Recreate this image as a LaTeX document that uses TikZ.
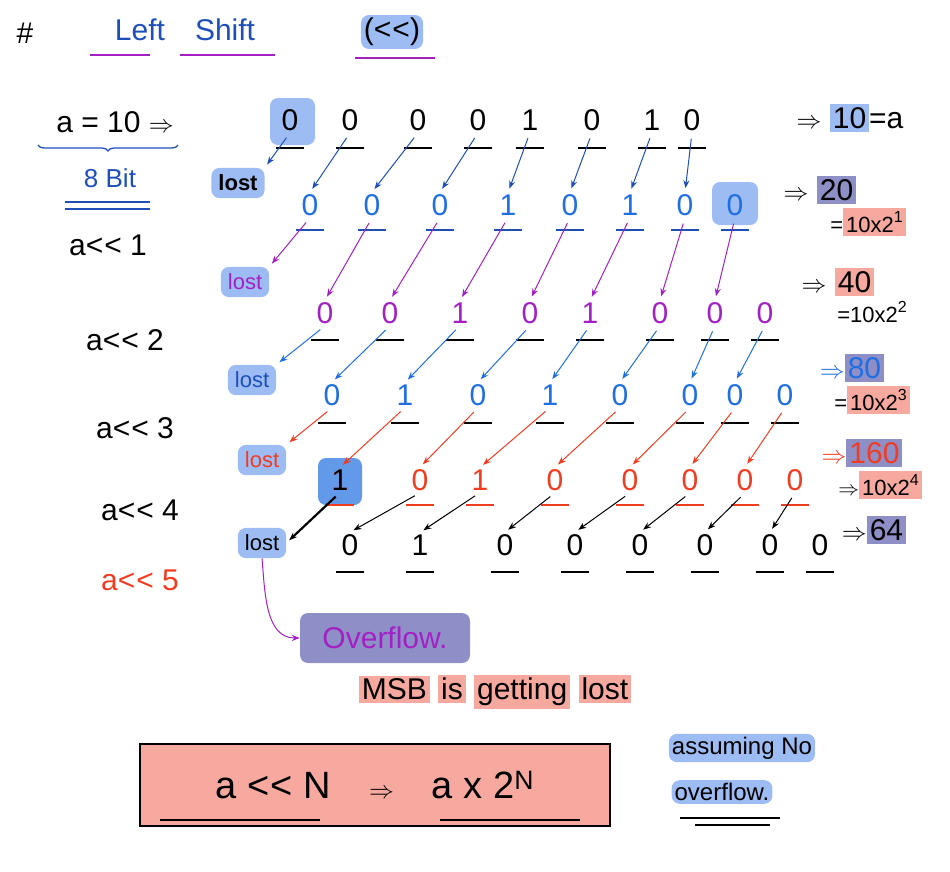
\documentclass[tikz,border=0pt]{standalone}
\usepackage{fontspec}
\setmainfont{Liberation Sans}
\usetikzlibrary{arrows.meta,decorations.pathreplacing}
\definecolor{hblue}{HTML}{9DBCF4}
\definecolor{hred}{HTML}{F7A9A0}
\definecolor{hpur}{HTML}{8F8FC8}
\definecolor{tblue}{HTML}{1F6FE0}
\definecolor{tdblue}{HTML}{1E4FB8}
\definecolor{tpur}{HTML}{A321C4}
\definecolor{tred}{HTML}{F03C20}
\newcommand{\shl}{{<}\kern1pt{<}}
\newcommand{\sups}[1]{\raisebox{0.45em}{\fontsize{16}{18}\selectfont #1}}
\tikzset{
 bit/.style={font=\fontsize{30}{32}\selectfont,inner sep=2pt},
 lbl/.style={font=\fontsize{30}{32}\selectfont,inner sep=3pt},
 hl/.style={fill=#1,rounded corners=8pt},
 lostbox/.style={fill=hblue,rounded corners=8pt,font=\fontsize{22}{24}\selectfont,inner sep=7pt},
 sh/.style={-{Stealth[length=8pt]},line width=1pt,shorten <=6pt,shorten >=4pt},
 ul/.style={line width=1.3pt}
}
\begin{document}
\begin{tikzpicture}[x=1pt,y=-1pt]
\useasboundingbox (0,0) rectangle (950,871);
% title
\node[lbl] (hash) at (25,33) {\#};
\node[lbl,text=tdblue] (title) at (185,30) {Left\quad Shift};
\node[lbl,hl=hblue] (op) at (392,32) {(\shl)};
\draw[tpur,ul] (90,55)--(150,55) (180,55)--(275,55) (355,58)--(435,58);
% left labels
\node[lbl] (a10) at (115,122) {a = 10 $\Rightarrow$};
\draw[decorate,decoration={brace,mirror,amplitude=6pt},tdblue,ul] (38,145)--(178,145);
\node[lbl,text=tdblue,font=\fontsize{26}{28}\selectfont] (bit8) at (110,178) {8 Bit};
\draw[tdblue,ul] (65,202)--(150,202) (65,209)--(150,209);
\node[lbl] (s1) at (108,245) {a\shl\ 1};
\node[lbl] (s2) at (125,340) {a\shl\ 2};
\node[lbl] (s3) at (135,428) {a\shl\ 3};
\node[lbl] (s4) at (140,510) {a\shl\ 4};
\node[lbl,text=tred] (s5) at (140,580) {a\shl\ 5};
% bit rows
\def\rowA{290/0,350/0,418/0,478/0,530/1,592/0,652/1,692/0}
\def\rowB{310/0,372/0,440/0,508/1,570/0,630/1,685/0,735/0}
\def\rowC{325/0,390/0,460/1,530/0,590/1,660/0,715/0,765/0}
\def\rowD{332/0,405/1,478/0,550/1,620/0,690/0,735/0,785/0}
\def\rowE{340/1,420/0,480/1,555/0,630/0,690/0,745/0,795/0}
\def\rowF{350/0,420/1,505/0,575/0,640/0,705/0,770/0,820/0}
\fill[hblue,rounded corners=8pt] (270,98) rectangle (315,145);
\fill[hblue,rounded corners=8pt] (712,182) rectangle (758,225);
\fill[tblue!70,rounded corners=8pt] (318,458) rectangle (362,505);
\foreach \x/\b [count=\i] in \rowA {\node[bit] (r1-\i) at (\x,120) {\b}; \draw[ul] (\x-14,148)--(\x+14,148);}
\foreach \x/\b [count=\i] in \rowB {\node[bit,text=tblue] (r2-\i) at (\x,205) {\b}; \draw[ul,tdblue] (\x-14,230)--(\x+14,230);}
\foreach \x/\b [count=\i] in \rowC {\node[bit,text=tpur] (r3-\i) at (\x,313) {\b}; \draw[ul] (\x-14,340)--(\x+14,340);}
\foreach \x/\b [count=\i] in \rowD {\node[bit,text=tblue] (r4-\i) at (\x,395) {\b}; \draw[ul] (\x-14,423)--(\x+14,423);}
\foreach \x/\b [count=\i] in \rowE {\node[bit,text=tred] (r5-\i) at (\x,480) {\b}; \draw[ul,tred] (\x-14,505)--(\x+14,505);}
\node[bit,text=black] at (r5-1) {1};
\foreach \x/\b [count=\i] in \rowF {\node[bit] (r6-\i) at (\x,545) {\b}; \draw[ul] (\x-14,572)--(\x+14,572);}
% lost boxes
\node[lostbox,font=\bfseries\fontsize{22}{24}\selectfont] (l1) at (238,183) {lost};
\node[lostbox,text=tpur] (l2) at (245,282) {lost};
\node[lostbox,text=tdblue] (l3) at (252,380) {lost};
\node[lostbox,text=tred] (l4) at (262,460) {lost};
\node[lostbox] (l5) at (262,543) {lost};
% arrows
\draw[sh,tdblue] (r1-1.south) -- (l1.north east);
\foreach \i [evaluate=\i as \j using int(\i-1)] in {2,...,8} \draw[sh,tdblue] (r1-\i.south) -- (r2-\j.north);
\draw[sh,tpur] (r2-1.south) -- (l2.north east);
\foreach \i [evaluate=\i as \j using int(\i-1)] in {2,...,8} \draw[sh,tpur] (r2-\i.south) -- (r3-\j.north);
\draw[sh,tblue] (r3-1.south) -- (l3.north east);
\foreach \i [evaluate=\i as \j using int(\i-1)] in {2,...,8} \draw[sh,tblue] (r3-\i.south) -- (r4-\j.north);
\draw[sh,tred] (r4-1.south) -- (l4.north east);
\foreach \i [evaluate=\i as \j using int(\i-1)] in {2,...,8} \draw[sh,tred] (r4-\i.south) -- (r5-\j.north);
\draw[sh,line width=2.2pt] (r5-1.south) -- (l5.east);
\foreach \i [evaluate=\i as \j using int(\i-1)] in {2,...,8} \draw[sh] (r5-\i.south) -- (r6-\j.north);
% right values
\node[lbl] (v0) at (850,118) {$\Rightarrow$ \colorbox{hblue}{10}=a};
\node[lbl] (v1) at (820,190) {$\Rightarrow$ \colorbox{hpur}{20}};
\node[lbl,font=\fontsize{22}{24}\selectfont] (e1) at (868,222) {=\colorbox{hred}{10x2\sups{1}}};
\node[lbl] (v2) at (838,282) {$\Rightarrow$ \colorbox{hred}{40}};
\node[lbl,font=\fontsize{22}{24}\selectfont] (e2) at (872,312) {=10x2\sups{2}};
\node[lbl] (v3) at (852,368) {\textcolor{tblue}{$\Rightarrow$}\colorbox{hpur}{\textcolor{tblue}{80}}};
\node[lbl,font=\fontsize{22}{24}\selectfont] (e3) at (872,400) {=\colorbox{hred}{10x2\sups{3}}};
\node[lbl] (v4) at (862,453) {\textcolor{tred}{$\Rightarrow$}\colorbox{hpur}{\textcolor{tred}{160}}};
\node[lbl,font=\fontsize{22}{24}\selectfont] (e4) at (880,485) {$\Rightarrow$\colorbox{hred}{10x2\sups{4}}};
\node[lbl] (v5) at (874,530) {$\Rightarrow$\colorbox{hpur}{64}};
% overflow
\node[lbl,hl=hpur,text=tpur,minimum width=170pt,minimum height=50pt] (ov) at (385,638) {Overflow.};
\draw[tpur,line width=1pt,-{Stealth[length=8pt]}] (l5.south) to[out=-85,in=180] (ov.west);
\node[lbl] (msb) at (495,692) {\colorbox{hred}{MSB} \colorbox{hred}{is} \colorbox{hred}{getting} \colorbox{hred}{lost}};
% formula
\node[draw,line width=1.3pt,fill=hred,minimum width=470pt,minimum height=82pt,font=\fontsize{38}{40}\selectfont] (f) at (375,785) {a \shl\ N\quad$\Rightarrow$\quad a x 2$^{\mathrm N}$};
\draw[ul] (160,820)--(320,820) (440,820)--(580,820);
\node[lbl,font=\fontsize{24}{26}\selectfont,hl=hblue] (as) at (742,748) {assuming No};
\node[lbl,font=\fontsize{24}{26}\selectfont,hl=hblue] (of) at (722,792) {overflow.};
\draw[ul] (680,818)--(780,818) (695,825)--(770,825);
\end{tikzpicture}
\end{document}
